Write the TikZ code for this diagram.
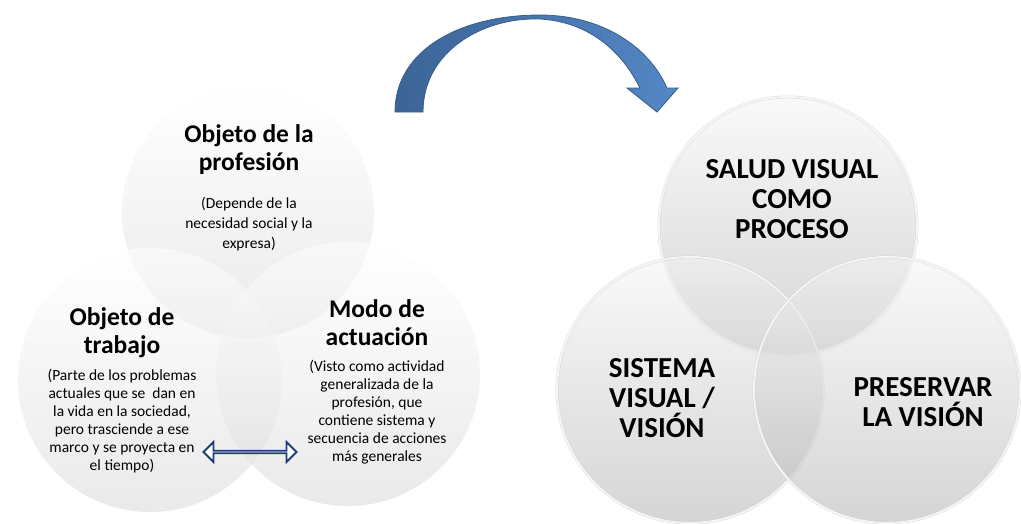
\documentclass[tikz,border=0pt]{standalone}
\usepackage{fontspec}
\setmainfont{Carlito}
\usetikzlibrary{shapes,positioning,arrows,calc}
\definecolor{arrowdark}{HTML}{3C6497}
\definecolor{arrowlight}{HTML}{5487C6}
\definecolor{arrowline}{HTML}{385D8A}
\definecolor{linkblue}{HTML}{1F3E78}

\begin{document}
\begin{tikzpicture}[x=1pt,y=-1pt]
      \tikzstyle{soft}=[circle, draw=none, top color=white, bottom color=black!14, fill opacity=0.6];
      \tikzstyle{glass}=[circle, draw=black!20, draw opacity=0.8, double=white, double distance=2pt, top color=black!4, bottom color=black!30, fill opacity=0.55];
      \tikzstyle{title}=[align=center, font=\fontsize{25.5}{28}\selectfont\bfseries];
      \tikzstyle{body}=[align=center, font=\fontsize{15.5}{18}\selectfont];
      \tikzstyle{caps}=[align=center, font=\fontsize{29}{30}\selectfont\bfseries];

      \useasboundingbox (0,0) rectangle (1021,523);

      \node (prof) at (248,212)[soft, minimum size=252pt]{};
      \node (trab) at (150,380)[soft, minimum size=264pt]{};
      \node (modo) at (348,374)[soft, minimum size=264pt]{};

      \node (prof t) at (249,150)[title]{Objeto de la\\profesión};
      \node (prof b) [below=15pt of prof t, body, font=\fontsize{15.5}{20}\selectfont]{(Depende de la\\necesidad social y la\\expresa)};
      \node (trab t) at (122,333)[title]{Objeto de\\trabajo};
      \node (trab b) [below=4pt of trab t, body]{(Parte de los problemas\\actuales que se~ dan en\\la vida en la sociedad,\\pero trasciende a ese\\marco y se proyecta en\\el tiempo)};
      \node (modo t) at (377,323)[title]{Modo de\\actuación};
      \node (modo b) [below=7pt of modo t, body]{(Visto como actividad\\generalizada de la\\profesión, que\\contiene sistema y\\secuencia de acciones\\más generales};

      \node (link) at (250,452)[double arrow, draw=linkblue, line width=1.8pt, fill=white, minimum height=93pt, minimum width=20pt, inner sep=0pt, double arrow head extend=6pt]{};

      \node (salud) at (788,226)[glass, minimum size=258pt]{};
      \node (sist) at (690,390)[glass, minimum size=266pt]{};
      \node (pres) at (887,390)[glass, minimum size=266pt]{};

      \node (salud t) at (792,199)[caps]{SALUD VISUAL\\COMO\\PROCESO};
      \node (sist t) at (662,398)[caps]{SISTEMA\\VISUAL /\\VISIÓN};
      \node (pres t) at (923,402)[caps]{PRESERVAR\\LA VISIÓN};

      \draw [arrowline, line width=0.8pt, left color=arrowdark, right color=arrowlight]
        (395,112) .. controls (395,50) and (460,15) .. (540,15)
        .. controls (600,15) and (648,45) .. (667,88)
        -- (678,88) -- (657,112) -- (627,88) -- (640,88)
        .. controls (622,52) and (590,22) .. (540,19)
        .. controls (482,17) and (423,52) .. (423,112) -- cycle;

    \end{tikzpicture}
\end{document}
